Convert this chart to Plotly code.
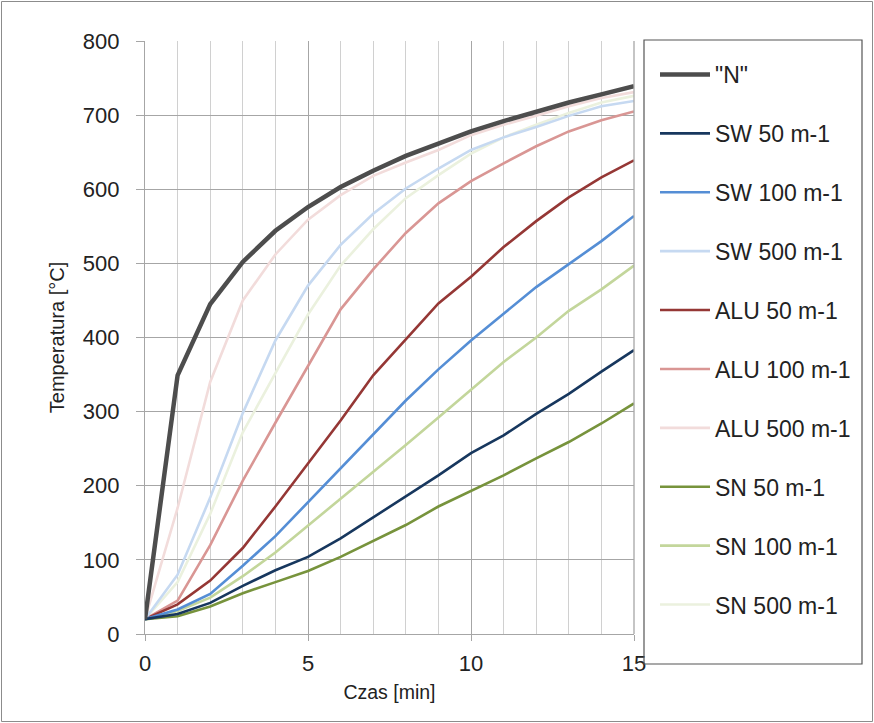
import plotly.graph_objects as go

minutes = list(range(16))

names = ['"N"', "SW 50 m-1", "SW 100 m-1", "SW 500 m-1",
         "ALU 50 m-1", "ALU 100 m-1", "ALU 500 m-1",
         "SN 50 m-1", "SN 100 m-1", "SN 500 m-1"]

n_curve   = [20, 349, 445, 502, 544, 576, 603, 625, 645, 662, 678, 692, 705, 717, 728, 739]
sw_50     = [20, 27, 42, 65, 86, 104, 129, 157, 185, 214, 244, 268, 297, 324, 354, 383]
sw_100    = [20, 33, 54, 92, 132, 178, 223, 270, 315, 357, 396, 432, 468, 499, 530, 564]
sw_500    = [20, 80, 184, 298, 396, 470, 525, 567, 601, 628, 653, 670, 684, 699, 712, 719]
alu_50    = [20, 40, 72, 116, 172, 230, 288, 349, 398, 446, 482, 522, 557, 589, 616, 639]
alu_100   = [20, 45, 120, 207, 285, 362, 438, 492, 541, 581, 611, 635, 658, 678, 693, 705]
alu_500   = [20, 170, 340, 450, 512, 559, 592, 618, 636, 653, 673, 687, 699, 712, 723, 731]
sn_50     = [20, 24, 37, 55, 70, 85, 104, 126, 147, 172, 193, 214, 237, 259, 284, 311]
sn_100    = [20, 31, 49, 78, 110, 146, 182, 218, 255, 292, 329, 367, 400, 436, 465, 497]
sn_500    = [20, 70, 162, 272, 352, 431, 497, 546, 588, 619, 648, 670, 687, 703, 717, 726]

series = [n_curve, sw_50, sw_100, sw_500, alu_50, alu_100, alu_500, sn_50, sn_100, sn_500]
colors = ["#4d4d4d", "#17375e", "#558ed5", "#c6d9f1",
          "#953735", "#d99694", "#f2dcdb",
          "#77933c", "#c3d69b", "#ebf1de"]
widths = [4.5, 2.6, 2.6, 2.6, 2.6, 2.6, 2.6, 2.6, 2.6, 2.6]

fig = go.Figure()
# draw in reverse so "N" is on top, legend order kept through legendrank
for i in reversed(range(len(series))):
    fig.add_trace(go.Scatter(
        x=minutes, y=series[i], mode="lines", name=names[i],
        line=dict(color=colors[i], width=widths[i]),
        legendgroup=f"g{i}", legendrank=i + 1,
    ))

W, H = 874, 723
L, R, T, B = 145, 240, 41, 89
pw, ph = W - L - R, H - T - B

def px_x(p):
    return (p - L) / pw

def px_y(p):
    return (H - B - p) / ph

fig.update_layout(
    width=W, height=H,
    margin=dict(l=L, r=R, t=T, b=B),
    paper_bgcolor="white", plot_bgcolor="white",
    font=dict(family="Liberation Sans, Arial, sans-serif", color="#222222", size=18),
    showlegend=True,
    legend=dict(
        x=px_x(655), y=px_y(53), xanchor="left", yanchor="top",
        font=dict(size=23, color="#222222"),
        tracegroupgap=26, bgcolor="rgba(0,0,0,0)", borderwidth=0,
        traceorder="grouped", itemwidth=50, maxheight=720,
    ),
    xaxis=dict(
        range=[0, 15], dtick=5, tick0=0,
        showgrid=True, gridcolor="#a6a6a6", gridwidth=1.3,
        minor=dict(dtick=1, showgrid=True, gridcolor="#d0d0d0", gridwidth=1.3,
                   ticks=""),
        ticks="outside", ticklen=6, tickcolor="#a6a6a6",
        showline=True, linecolor="#a6a6a6", linewidth=1.3,
        zeroline=False, ticklabelstandoff=3,
        title=dict(text="Czas [min]", font=dict(size=19.5), standoff=10),
        tickfont=dict(size=22),
    ),
    yaxis=dict(
        range=[0, 800], dtick=100,
        showgrid=True, gridcolor="#a6a6a6", gridwidth=1.3,
        ticks="outside", ticklen=8, tickcolor="#a6a6a6",
        showline=True, linecolor="#a6a6a6", linewidth=1.3,
        zeroline=False, ticklabelstandoff=12,
        title=dict(text="Temperatura [°C]", font=dict(size=20), standoff=12),
        tickfont=dict(size=22),
    ),
    shapes=[
        # right edge of plot area
        dict(type="line", xref="paper", yref="paper", x0=1, x1=1, y0=0, y1=1,
             line=dict(color="#a6a6a6", width=1.3)),
        # legend frame
        dict(type="rect", xref="paper", yref="paper",
             x0=px_x(644), x1=px_x(862), y0=px_y(664), y1=px_y(40),
             line=dict(color="#555555", width=1.2)),
        # outer frame
        dict(type="rect", xref="paper", yref="paper",
             x0=px_x(1.5), x1=px_x(872.5), y0=px_y(721.5), y1=px_y(1.5),
             line=dict(color="#8c8c8c", width=1)),
    ],
)

fig.write_html("out.html")
